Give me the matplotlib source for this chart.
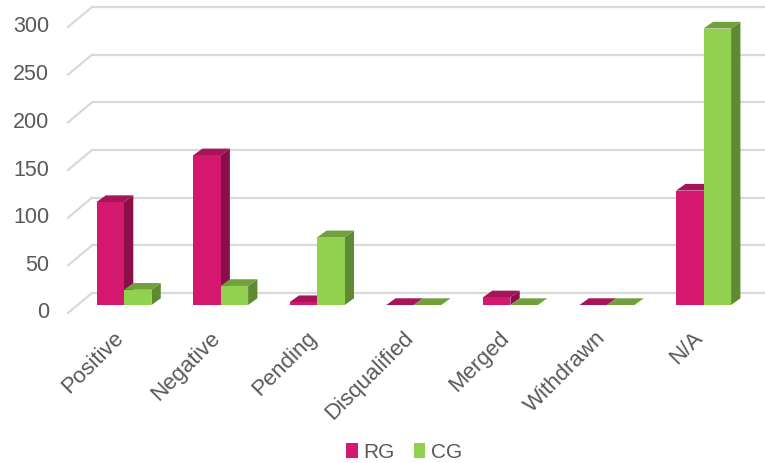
import matplotlib
matplotlib.use("Agg")
import matplotlib.pyplot as plt
from matplotlib.patches import Polygon, Patch

# ---- data ----
categories = ["Positive", "Negative", "Pending", "Disqualified", "Merged", "Withdrawn", "N/A"]
rg_values = [108, 157, 3, 0, 8, 0, 120]
cg_values = [16, 20, 71, 0, 0, 0, 290]
y_ticks = [0, 50, 100, 150, 200, 250, 300]

# ---- style ----
W, H, DPI = 765, 463, 100
rg_colors = {"front": "#D4186F", "top": "#A6145A", "side": "#8A0E48"}
cg_colors = {"front": "#92D050", "top": "#71A03C", "side": "#5E8A32"}
grid_color = "#D9D9D9"
text_color = "#595959"
font = ["Liberation Sans", "DejaVu Sans"]

fig = plt.figure(figsize=(W / DPI, H / DPI), dpi=DPI)
ax_left, ax_right = 75.7, 751.9
ax_bottom_px, ax_top_px = 305, 19
ax = fig.add_axes([ax_left / W, (H - ax_bottom_px) / H,
                   (ax_right - ax_left) / W, (ax_bottom_px - ax_top_px) / H])
ax.set_xlim(-0.5, len(categories) - 0.5)
ax.set_ylim(0, 300)
ax.axis("off")

px_x = (ax_right - ax_left) / len(categories)   # pixels per category unit
px_y = (ax_bottom_px - ax_top_px) / 300.0       # pixels per value unit

def ox(p):
    return p / px_x

def oy(p):
    return p / px_y

# plane offsets (pixels) relative to the bar front plane
back_dx, back_dy = ox(16.3), oy(12.0)
front_dx, front_dy = ox(-7.7), oy(-8.0)
depth_dx, depth_dy = ox(9.3), oy(6.7)

x0 = -0.5
x1 = len(categories) - 0.5
for v in y_ticks:
    # back wall gridline
    ax.plot([x0 + back_dx, x1 + back_dx + 1], [v + back_dy, v + back_dy],
            color=grid_color, lw=1.6, zorder=1, clip_on=False,
            solid_capstyle="butt")
    # left diagonal
    ax.plot([x0 + front_dx, x0 + back_dx], [v + front_dy, v + back_dy],
            color=grid_color, lw=1.6, zorder=1, clip_on=False)
    ax.text(x0 + front_dx - ox(19), v + front_dy, str(v), ha="right", va="center",
            fontsize=15.5, color=text_color, family=font)

bw = 27.5 / px_x
xs = list(range(len(categories)))
z = 2
for vals, cols, shift in [(rg_values, rg_colors, -bw / 2), (cg_values, cg_colors, bw / 2)]:
    bars = ax.bar([x + shift for x in xs], vals, width=bw, color=cols["front"],
                  zorder=z + 2, clip_on=False, linewidth=0)
    for rect in bars:
        bx, bwid, bh = rect.get_x(), rect.get_width(), rect.get_height()
        side = Polygon([(bx + bwid, 0), (bx + bwid + depth_dx, depth_dy),
                        (bx + bwid + depth_dx, bh + depth_dy), (bx + bwid, bh)],
                       closed=True, facecolor=cols["side"], edgecolor="none",
                       zorder=z, clip_on=False)
        top = Polygon([(bx, bh), (bx + bwid, bh), (bx + bwid + depth_dx, bh + depth_dy),
                       (bx + depth_dx, bh + depth_dy)],
                      closed=True, facecolor=cols["top"], edgecolor="none",
                      zorder=z + 1, clip_on=False)
        ax.add_patch(side)
        ax.add_patch(top)
    z += 3

for x, lab in zip(xs, categories):
    ax.annotate(lab, xy=(x, front_dy), xytext=(-4, -22), textcoords="offset pixels",
                ha="right", va="center", rotation=45, rotation_mode="anchor",
                fontsize=16, color=text_color, family=font, annotation_clip=False)

handles = [Patch(facecolor=rg_colors["front"], label="RG"),
           Patch(facecolor=cg_colors["front"], label="CG")]
leg = fig.legend(handles=handles, loc="center", bbox_to_anchor=(404 / W, 1 - 452 / H),
                 ncol=2, frameon=False, handlelength=0.55, handleheight=0.75,
                 handletextpad=0.25, columnspacing=0.95,
                 prop={"family": font, "size": 15})
for t in leg.get_texts():
    t.set_color(text_color)

fig.savefig("out.png", dpi=DPI)
